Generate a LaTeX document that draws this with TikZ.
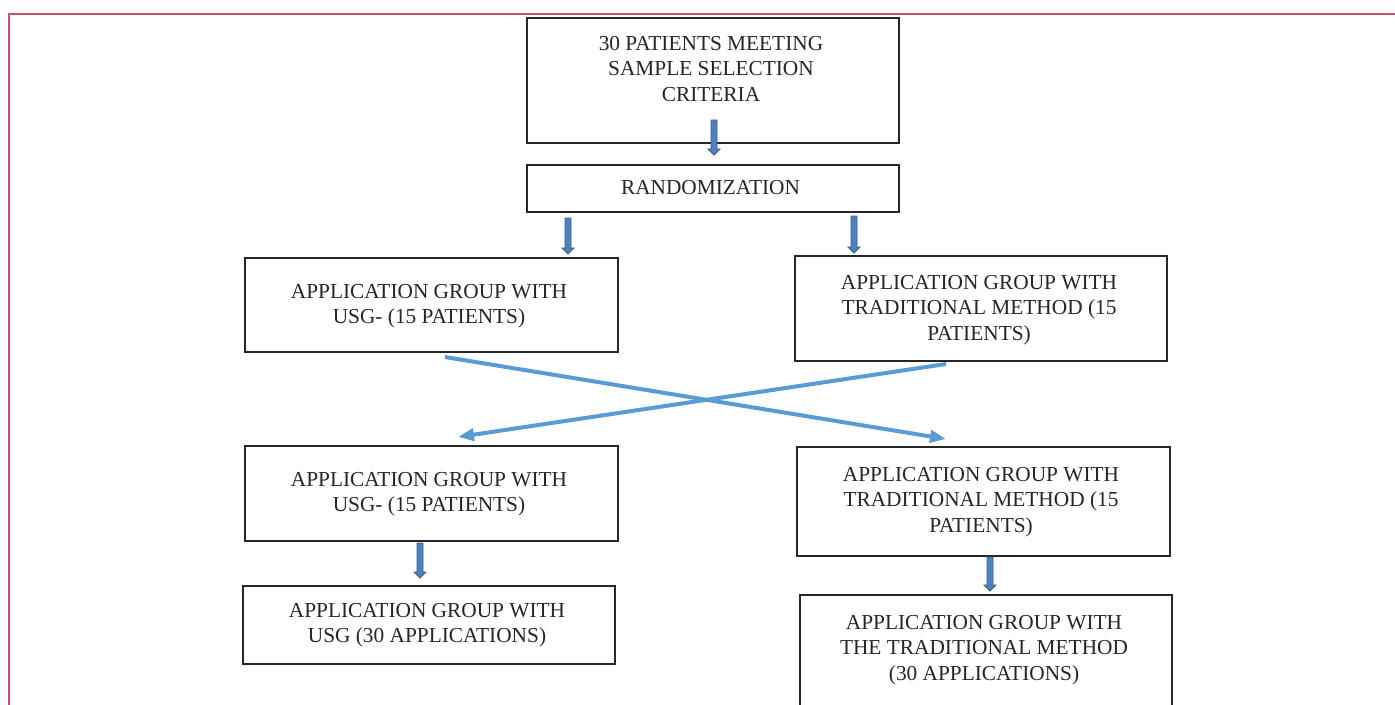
\documentclass[tikz,border=0pt]{standalone}
\usepackage{fontspec}
\setmainfont{Liberation Serif}
\usetikzlibrary{calc,arrows.meta}
\definecolor{frame}{RGB}{200,80,104}
\definecolor{lineblue}{RGB}{91,155,213}
\definecolor{arrfill}{RGB}{79,129,189}
\definecolor{arrdraw}{RGB}{56,93,138}
\newcommand\varrow[2]{\draw[barrow] ($(#1)+(-3,0)$) -- ($(#2)+(-3,-6)$) -- ($(#2)+(-6,-6)$) -- (#2) -- ($(#2)+(6,-6)$) -- ($(#2)+(3,-6)$) -- ($(#1)+(3,0)$) -- cycle;}
\begin{document}
\begin{tikzpicture}[x=0.75pt,y=-0.75pt,
  box/.style={draw=black!85, line width=1.1pt, fill=white, inner sep=0pt, minimum width=279pt},
  txt/.style={anchor=north, align=center, inner sep=0pt, font=\fontsize{16}{19.1}\selectfont, text=black!85},
  barrow/.style={fill=arrfill, draw=arrdraw, line width=0.6pt, line join=miter},
  cross/.style={draw=lineblue, line width=3pt, -{Triangle[length=12pt,width=9pt]}}]
\path[use as bounding box, clip] (0,0) rectangle (1395,704);
\fill[white] (0,0) rectangle (1395,704);
\draw[frame, line width=1.8pt] (9,720) -- (9,14) -- (1400,14);
% boxes
\node[box, minimum height=93.75pt] (b1) at (713,80.5) {};
\node[box, minimum height=35.25pt] (b2) at (713,188.5) {};
\node[box, minimum width=279.75pt, minimum height=70.5pt] (b3) at (431.5,305) {};
\node[box, minimum height=78.75pt] (b4) at (981,308.5) {};
\node[box, minimum width=279.75pt, minimum height=71.25pt] (b5) at (431.5,493.5) {};
\node[box, minimum width=279.75pt, minimum height=81.75pt] (b6) at (983.5,501.5) {};
\node[box, minimum height=58.5pt] (b7) at (429,625) {};
\node[box, minimum height=93.75pt] (b8) at (986,657.5) {};
% texts
\node[txt] (t1) at (711,36) {30 PATIENTS MEETING\\SAMPLE SELECTION\\CRITERIA};
\node[txt] (t2) at (710.5,180) {RANDOMIZATION};
\node[txt] (t3) at (429,284) {APPLICATION GROUP WITH\\USG- (15 PATIENTS)};
\node[txt] (t4) at (979,275) {APPLICATION GROUP WITH\\TRADITIONAL METHOD (15\\PATIENTS)};
\node[txt] (t5) at (429,472) {APPLICATION GROUP WITH\\USG- (15 PATIENTS)};
\node[txt] (t6) at (981,467) {APPLICATION GROUP WITH\\TRADITIONAL METHOD (15\\PATIENTS)};
\node[txt] (t7) at (427,603) {APPLICATION GROUP WITH\\USG (30 APPLICATIONS)};
\node[txt] (t8) at (984,615) {APPLICATION GROUP WITH\\THE TRADITIONAL METHOD\\(30 APPLICATIONS)};
% block arrows
\coordinate (a1s) at (714,120); \coordinate (a1e) at (714,155);
\coordinate (a2s) at (568,218); \coordinate (a2e) at (568,254);
\coordinate (a3s) at (854,216); \coordinate (a3e) at (854,253);
\coordinate (a4s) at (420,543); \coordinate (a4e) at (420,578);
\coordinate (a5s) at (990,557); \coordinate (a5e) at (990,591);
\varrow{a1s}{a1e}
\varrow{a2s}{a2e}
\varrow{a3s}{a3e}
\varrow{a4s}{a4e}
\varrow{a5s}{a5e}
% crossing lines
\coordinate (c1s) at (445,357); \coordinate (c1e) at (946,439);
\coordinate (c2s) at (946,364); \coordinate (c2e) at (458,437);
\draw[cross] (c1s) -- (c1e);
\draw[cross] (c2s) -- (c2e);
\end{tikzpicture}
\end{document}
